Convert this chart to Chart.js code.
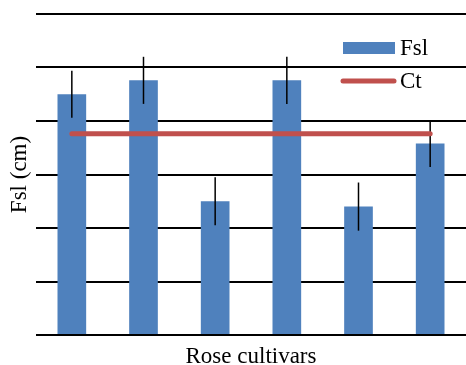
<!DOCTYPE html>
<html>
<head>
<meta charset="utf-8">
<script src="https://cdn.jsdelivr.net/npm/chart.js@4.4.0/dist/chart.umd.min.js"></script>
<style>
  html, body { margin: 0; padding: 0; background: #fff; overflow: hidden; }
  #wrap { width: 466px; height: 365px; }
</style>
</head>
<body>
<div id="wrap"><canvas id="roseChart"></canvas></div>
<script>
// values (no tick labels, so units are grid steps)
const cultivars = ['C1', 'C2', 'C3', 'C4', 'C5', 'C6'];
const fslValues = [4.50, 4.76, 2.50, 4.76, 2.40, 3.58];
const fslErrors = [0.44, 0.44, 0.45, 0.44, 0.45, 0.44];
const ctValues = [3.76, 3.76, 3.76, 3.76, 3.76, 3.76];

const serif = '"Liberation Serif", "Times New Roman", serif';

// error bars on top of the bars, drawn before the Ct line
const errorBars = {
    id: 'errorBars',
    afterDatasetDraw(chart, args) {
        if (args.index !== 0) return;
        const ctx = chart.ctx;
        const y = chart.scales.y;
        ctx.save();
        ctx.strokeStyle = '#000';
        ctx.lineWidth = 1.5;
        args.meta.data.forEach(function (bar, i) {
            ctx.beginPath();
            ctx.moveTo(bar.x, y.getPixelForValue(fslValues[i] + fslErrors[i]));
            ctx.lineTo(bar.x, y.getPixelForValue(fslValues[i] - fslErrors[i]));
            ctx.stroke();
        });
        ctx.restore();
    }
};

// legend in the top right corner of the plot
const cornerLegend = {
    id: 'cornerLegend',
    afterDraw(chart) {
        const ctx = chart.ctx;
        const ds = chart.data.datasets;
        ctx.save();
        ctx.font = '23px ' + serif;
        ctx.textBaseline = 'middle';
        ctx.fillStyle = ds[0].backgroundColor;
        ctx.fillRect(343, 42, 52, 12);
        ctx.strokeStyle = ds[1].borderColor;
        ctx.lineWidth = 5;
        ctx.lineCap = 'round';
        ctx.beginPath();
        ctx.moveTo(343, 81);
        ctx.lineTo(394, 81);
        ctx.stroke();
        ctx.fillStyle = '#000';
        ctx.fillText(ds[0].label, 400, 49);
        ctx.fillText(ds[1].label, 400, 82);
        ctx.restore();
    }
};

new Chart(document.getElementById('roseChart'), {
    type: 'bar',
    data: {
        labels: cultivars,
        datasets: [{
            label: 'Fsl',
            data: fslValues,
            backgroundColor: '#4f81bd',
            barPercentage: 0.4,
            categoryPercentage: 1.0,
            order: 1
        }, {
            type: 'line',
            label: 'Ct',
            data: ctValues,
            borderColor: '#c0504d',
            borderWidth: 5,
            borderCapStyle: 'round',
            pointRadius: 0,
            order: 0
        }]
    },
    options: {
        responsive: true,
        maintainAspectRatio: false,
        animation: false,
        layout: { padding: { top: 14, right: 0, left: 0, bottom: 0 } },
        plugins: {
            legend: { display: false },
            tooltip: { enabled: false }
        },
        scales: {
            x: {
                grid: { display: false, drawTicks: false },
                border: { display: false },
                ticks: { display: false },
                title: {
                    display: true,
                    text: 'Rose cultivars',
                    color: '#000',
                    font: { family: serif, size: 23, lineHeight: 1.0 },
                    padding: { top: 10, bottom: -3 }
                }
            },
            y: {
                min: 0,
                max: 6,
                ticks: { display: false, stepSize: 1 },
                grid: { color: '#000', lineWidth: 2, drawTicks: false },
                border: { display: false },
                title: {
                    display: true,
                    text: 'Fsl (cm)',
                    color: '#000',
                    font: { family: serif, size: 23, lineHeight: 1.0 },
                    padding: { top: 8, bottom: 5 }
                }
            }
        }
    },
    plugins: [errorBars, cornerLegend]
});
</script>
</body>
</html>
